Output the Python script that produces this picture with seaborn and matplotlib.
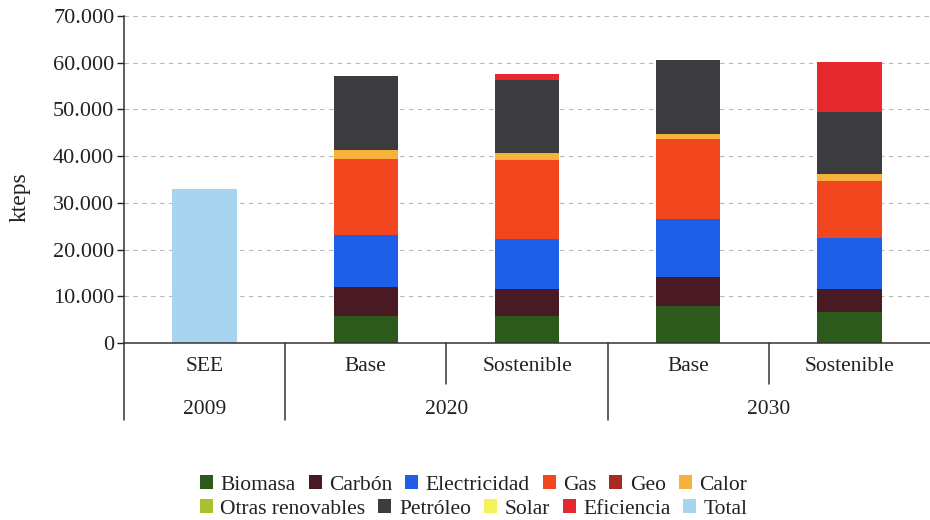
import matplotlib
matplotlib.use("Agg")
import matplotlib.pyplot as plt
from matplotlib.patches import Patch
from matplotlib.ticker import FuncFormatter
import numpy as np
import pandas as pd
import seaborn as sns

# Escenarios (eje x) y sus grupos por año
scenario_ids = ["2009 SEE", "2020 Base", "2020 Sostenible", "2030 Base", "2030 Sostenible"]
scenario_labels = ["SEE", "Base", "Sostenible", "Base", "Sostenible"]
years = ["2009", "2020", "2030"]
year_spans = [(0, 0), (1, 2), (3, 4)]

# Consumo por fuente (kteps)
biomasa = [0, 5800, 5800, 8000, 6600]
carbon = [0, 6200, 5700, 6200, 4900]
electricidad = [0, 11200, 10800, 12300, 10900]
gas = [0, 16200, 16800, 17100, 12300]
geo = [0, 0, 0, 0, 0]
calor = [0, 1900, 1500, 1200, 1500]
otras_renovables = [0, 0, 0, 0, 0]
petroleo = [0, 15800, 15600, 15700, 13300]
solar = [0, 0, 0, 0, 0]
eficiencia = [0, 0, 1400, 0, 10600]
total = [33000, 0, 0, 0, 0]

series_names = ["Biomasa", "Carbón", "Electricidad", "Gas", "Geo", "Calor",
                "Otras renovables", "Petróleo", "Solar", "Eficiencia", "Total"]
series_values = [biomasa, carbon, electricidad, gas, geo, calor,
                 otras_renovables, petroleo, solar, eficiencia, total]
series_colors = ["#2c5a1c", "#4a1a24", "#1f5ee6", "#f2461e", "#a82a22", "#f7b23e",
                 "#a9c232", "#3b3b40", "#f4f25a", "#e6282f", "#a8d4ef"]

serif = ["Liberation Serif", "DejaVu Serif"]
sns.set_theme(style="white")
plt.rcParams["font.family"] = serif

fig = plt.figure(figsize=(9.3, 5.2), dpi=100)
ax = fig.add_axes([124 / 930, 1 - 343 / 520, 806 / 930, 327 / 520])

# Apilado: se dibuja el acumulado de cada capa, de arriba hacia abajo
stack_names = series_names[:-1]
stack_vals = np.array(series_values[:-1], dtype=float)
cum = np.cumsum(stack_vals, axis=0)
for i in range(len(stack_names) - 1, -1, -1):
    df = pd.DataFrame({"escenario": scenario_ids, "valor": cum[i]})
    sns.barplot(data=df, x="escenario", y="valor", order=scenario_ids,
                color=series_colors[i], saturation=1, width=0.4,
                errorbar=None, linewidth=0, ax=ax, zorder=2)

df_total = pd.DataFrame({"escenario": scenario_ids, "valor": total})
sns.barplot(data=df_total, x="escenario", y="valor", order=scenario_ids,
            color=series_colors[-1], saturation=1, width=0.4,
            errorbar=None, linewidth=0, ax=ax, zorder=2)

ax.set_xlim(-0.5, 4.5)
ax.set_ylim(0, 70000)
ax.set_yticks(np.arange(0, 70001, 10000))
ax.yaxis.set_major_formatter(FuncFormatter(lambda v, p: f"{int(v):,}".replace(",", ".")))
ax.tick_params(axis="y", labelsize=16, colors="#222222", length=5, width=1,
               direction="out", left=True, pad=2)
ax.set_xticks([])
ax.set_xlabel("")
ax.set_ylabel("kteps", fontsize=17, color="#222222")
ax.yaxis.set_label_coords(-0.116, 0.446)

ax.yaxis.grid(True, linestyle=(0, (4, 4)), color="#b8b8b8", linewidth=0.8)
ax.set_axisbelow(True)
for side in ["top", "right"]:
    ax.spines[side].set_visible(False)
for side in ["left", "bottom"]:
    ax.spines[side].set_color("#333333")
    ax.spines[side].set_linewidth(1.1)

# Eje x de dos niveles: escenario y año
trans = ax.get_xaxis_transform()
for xb in [-0.5, 0.5, 2.5]:
    ax.plot([xb, xb], [0, -0.235], transform=trans, color="#333333",
            linewidth=1.1, clip_on=False)
for xb in [1.5, 3.5]:
    ax.plot([xb, xb], [0, -0.125], transform=trans, color="#333333",
            linewidth=1.1, clip_on=False)
for xi, lab in enumerate(scenario_labels):
    ax.text(xi, -0.072, lab, transform=trans, ha="center", va="center",
            fontsize=15.5, color="#222222")
for yr, (a, b) in zip(years, year_spans):
    ax.text((a + b) / 2, -0.203, yr, transform=trans, ha="center", va="center",
            fontsize=15.5, color="#222222")

# Leyenda en dos filas
handles = [Patch(facecolor=c, edgecolor="none") for c in series_colors]
leg_kw = dict(frameon=False, fontsize=15.5, handlelength=0.6, handleheight=0.6,
              handletextpad=0.35, columnspacing=0.6, borderaxespad=0,
              borderpad=0, loc="center left")
leg1 = fig.legend(handles[:6], series_names[:6], ncol=6,
                  bbox_to_anchor=(200 / 930, 1 - 485 / 520), **leg_kw)
leg2 = fig.legend(handles[6:], series_names[6:], ncol=5,
                  bbox_to_anchor=(200 / 930, 1 - 509 / 520), **leg_kw)
for leg in (leg1, leg2):
    for t in leg.get_texts():
        t.set_color("#222222")

fig.savefig("out.png", dpi=100, facecolor="white")
